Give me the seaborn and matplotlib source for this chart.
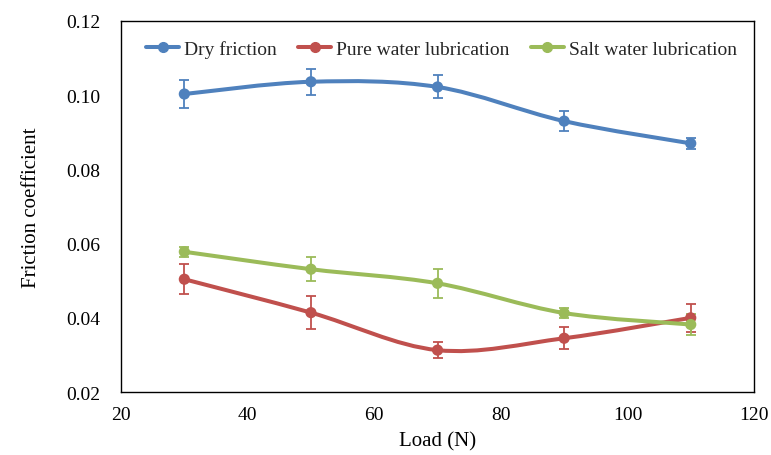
import numpy as np
import pandas as pd
import matplotlib
matplotlib.use("Agg")
import matplotlib.pyplot as plt
import seaborn as sns
from matplotlib.path import Path
from matplotlib.patches import PathPatch
from matplotlib.lines import Line2D

# ---- data ----
load = [30, 50, 70, 90, 110]
dry = [0.1003, 0.1036, 0.1022, 0.0930, 0.0870]
dry_err = [0.0039, 0.0035, 0.0031, 0.0027, 0.0015]
pure = [0.0504, 0.0414, 0.0313, 0.0345, 0.0400]
pure_err = [0.0041, 0.0044, 0.0022, 0.0030, 0.0038]
salt = [0.0578, 0.0531, 0.0493, 0.0413, 0.0382]
salt_err = [0.0013, 0.0032, 0.0039, 0.0014, 0.0029]
series_names = ["Dry friction", "Pure water lubrication", "Salt water lubrication"]
colors = ["#4F81BD", "#C0504D", "#9BBB59"]
x_ticks = [20, 40, 60, 80, 100, 120]
y_ticks = [0.02, 0.04, 0.06, 0.08, 0.10, 0.12]

sns.set_theme(style="white")
plt.rcParams['font.family'] = ['Liberation Serif', 'DejaVu Serif']

fig = plt.figure(figsize=(7.71, 4.56), dpi=100)
ax = fig.add_axes([0.157, 0.138, 0.821, 0.814])

rows = []
for name, vals in zip(series_names, [dry, pure, salt]):
    for xv, yv in zip(load, vals):
        rows.append({"Load": xv, "Friction": yv, "Series": name})
df = pd.DataFrame(rows)


def smooth_path(xs, ys):
    pts = np.column_stack([xs, ys]).astype(float)
    n = len(pts)
    verts = [pts[0]]
    codes = [Path.MOVETO]
    for i in range(n - 1):
        p0 = pts[i - 1] if i > 0 else pts[i]
        p1 = pts[i]
        p2 = pts[i + 1]
        p3 = pts[i + 2] if i + 2 < n else pts[i + 1]
        c1 = p1 + (p2 - p0) / 6.0
        c2 = p2 - (p3 - p1) / 6.0
        verts += [c1, c2, p2]
        codes += [Path.CURVE4] * 3
    return Path(verts, codes)


for name, vals, errs, c in zip(series_names, [dry, pure, salt],
                               [dry_err, pure_err, salt_err], colors):
    patch = PathPatch(smooth_path(load, vals), facecolor="none", edgecolor=c,
                      lw=2.9, transform=ax.transData, zorder=2,
                      capstyle="round", joinstyle="round")
    ax.add_patch(patch)
    ax.errorbar(load, vals, yerr=errs, fmt="none", ecolor=c, elinewidth=1.3,
                capsize=3.4, capthick=1.3, zorder=3)

sns.scatterplot(data=df, x="Load", y="Friction", hue="Series",
                palette=colors, hue_order=series_names, s=65,
                edgecolor="none", ax=ax, zorder=4, legend=False)

ax.set_xlim(20, 120)
ax.set_ylim(0.02, 0.12)
ax.set_xticks(x_ticks)
ax.set_xticklabels([str(v) for v in x_ticks])
ax.set_yticks(y_ticks)
ax.set_yticklabels([f"{v:.2f}" for v in y_ticks])
ax.tick_params(axis="both", length=0, labelsize=14, colors="black")
ax.tick_params(axis="x", pad=10)
ax.tick_params(axis="y", pad=15)
for sp in ax.spines.values():
    sp.set_visible(True)
    sp.set_color("black")
    sp.set_linewidth(1.0)
ax.set_xlabel("Load (N)", fontsize=15, color="black", labelpad=6)
ax.set_ylabel("Friction coefficient", fontsize=15, color="black", labelpad=18)

handles = [Line2D([0], [0], color=c, lw=2.9, marker="o", markersize=7)
           for c in colors]
ax.legend(handles, series_names, loc="upper center", ncol=3, frameon=False,
          fontsize=14, handlelength=1.7, handletextpad=0.25, columnspacing=1.1,
          bbox_to_anchor=(0.506, 1.0), borderaxespad=0.6)

fig.savefig("out.png", dpi=100)
